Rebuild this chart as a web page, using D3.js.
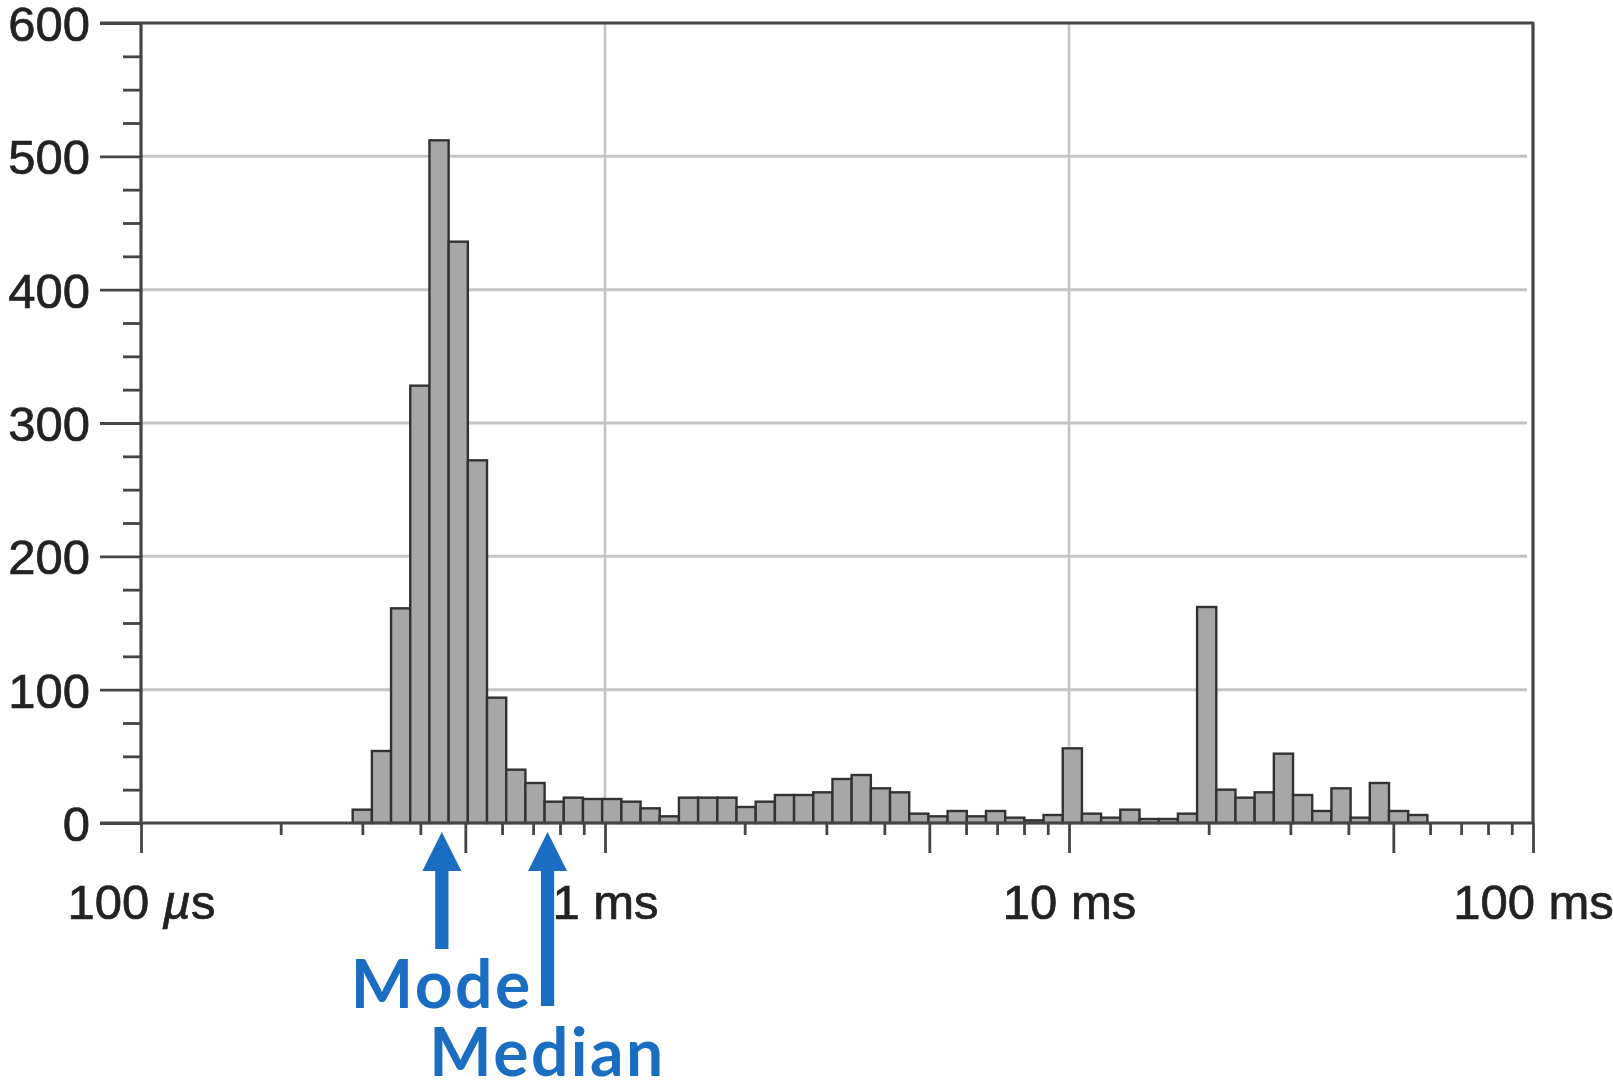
<!DOCTYPE html>
<html>
<head>
<meta charset="utf-8">
<script src="https://cdn.jsdelivr.net/npm/d3@7"></script>
<style>
  html, body { margin: 0; padding: 0; background: #fff; overflow: hidden; }
  svg { display: block; }
</style>
</head>
<body>
<svg id="chart" width="1613" height="1084"></svg>
<script>
// Response-time histogram with log-spaced bins (counts per bin)
const binCounts = [
  10, 54, 161, 328, 512, 436, 272, 94, 40, 30,
  16, 19, 18, 18, 16, 11, 5, 19, 19, 19,
  12, 16, 21, 21, 23, 33, 36, 26, 23, 7,
  5, 9, 5, 9, 4, 2, 6, 56, 7, 4,
  10, 3, 3, 7, 162, 25, 19, 23, 52, 21,
  9, 26, 4, 30, 9, 6
];
const firstBinEdgeMs = 0.2859;   // lower edge of the first bin
const binLogWidth = 0.04136;     // bin width in decades

const yTickValues = [0, 100, 200, 300, 400, 500, 600];
const xTickValues = [0.1, 1, 10, 100];
const xTickLabels = ["100 µs", "1 ms", "10 ms", "100 ms"];

const markerNames = ["Mode", "Median"];
const markerValuesMs = [0.445, 0.752];

// ---- layout ----
const plotLeft = 141, plotRight = 1533, plotTop = 23, plotBottom = 823;
const axisColor = "#444444", gridColor = "#c4c4c4", textColor = "#222222";
const accent = "#1b6dc1";

const svg = d3.select("#chart");
const x = d3.scaleLog().domain([0.1, 100]).range([plotLeft, plotRight]);
const y = d3.scaleLinear().domain([0, 600]).range([plotBottom, plotTop]);

const defs = svg.append("defs");
defs.append("filter").attr("id", "soft")
  .attr("x", "-5%").attr("y", "-5%").attr("width", "110%").attr("height", "110%")
  .append("feGaussianBlur").attr("stdDeviation", 0.7);

const plot = svg.append("g").attr("filter", "url(#soft)");

// horizontal grid
plot.append("g").selectAll("line")
  .data(yTickValues.filter(v => v > 0 && v < 600))
  .join("line")
  .attr("x1", plotLeft).attr("x2", plotRight - 6)
  .attr("y1", d => y(d)).attr("y2", d => y(d))
  .attr("stroke", gridColor).attr("stroke-width", 3);

// vertical grid at inner decades
plot.append("g").selectAll("line")
  .data(xTickValues.slice(1, -1))
  .join("line")
  .attr("x1", d => x(d)).attr("x2", d => x(d))
  .attr("y1", plotTop).attr("y2", plotBottom)
  .attr("stroke", gridColor).attr("stroke-width", 2.5);

// bars
const bins = binCounts.map((count, i) => {
  const lo = firstBinEdgeMs * Math.pow(10, i * binLogWidth);
  const hi = lo * Math.pow(10, binLogWidth);
  return { lo, hi, count };
});
plot.append("g").selectAll("rect")
  .data(bins)
  .join("rect")
  .attr("x", d => x(d.lo))
  .attr("width", d => x(d.hi) - x(d.lo))
  .attr("y", d => y(d.count))
  .attr("height", d => y(0) - y(d.count))
  .attr("fill", "#a7a7a7")
  .attr("stroke", "#333333")
  .attr("stroke-width", 2.4);

// y axis: major ticks with labels, minor ticks every 25
const yAxis = plot.append("g").attr("transform", `translate(${plotLeft},0)`)
  .call(d3.axisLeft(y).tickValues(yTickValues).tickSize(41).tickPadding(10)
    .tickFormat(d3.format("d")));
yAxis.selectAll(".tick text").attr("dy", "0.36em");
const yMinor = d3.range(0, 601, 25).filter(v => v % 100 !== 0);
const yAxisMinor = plot.append("g").attr("transform", `translate(${plotLeft},0)`)
  .call(d3.axisLeft(y).tickValues(yMinor).tickSize(18).tickFormat(""));

// x axis: decades and 5× ticks long, the rest short
const allMinor = [];
[0.1, 1, 10].forEach(dec => { for (let k = 2; k <= 9; k++) allMinor.push(dec * k); });
const isFive = v => Math.abs(v / Math.pow(10, Math.floor(Math.log10(v) + 1e-9)) - 5) < 1e-6;
const xFive = allMinor.filter(isFive);
const xShort = allMinor.filter(v => !isFive(v));

const xAxis = plot.append("g").attr("transform", `translate(0,${plotBottom})`)
  .call(d3.axisBottom(x).tickValues(xTickValues).tickSize(30).tickPadding(26)
    .tickFormat(() => ""));
const xAxisFive = plot.append("g").attr("transform", `translate(0,${plotBottom})`)
  .call(d3.axisBottom(x).tickValues(xFive).tickSize(30).tickFormat(""));
const xAxisShort = plot.append("g").attr("transform", `translate(0,${plotBottom})`)
  .call(d3.axisBottom(x).tickValues(xShort).tickSize(12).tickFormat(""));

// x tick labels (µ set in italic)
xAxis.selectAll(".tick text").each(function(d, i) {
  const t = d3.select(this);
  t.text(null).attr("dy", null).attr("y", 96);
  const label = xTickLabels[i];
  const muAt = label.indexOf("µ");
  if (muAt >= 0) {
    t.append("tspan").text(label.slice(0, muAt));
    t.append("tspan").attr("font-style", "italic").text("µ");
    t.append("tspan").text(label.slice(muAt + 1));
  } else {
    t.text(label);
  }
});

[yAxis, yAxisMinor, xAxis, xAxisFive, xAxisShort].forEach(g => {
  g.select(".domain").remove();
  g.selectAll(".tick line").attr("stroke", axisColor).attr("stroke-width", 2.8);
  g.selectAll("text")
    .attr("fill", textColor)
    .attr("stroke", textColor)
    .attr("stroke-width", 0.7)
    .attr("font-family", "'Liberation Sans', Arial, Helvetica, sans-serif")
    .attr("font-size", 49);
});

// frame: left, bottom, top, right
const frame = plot.append("g").attr("fill", "none").attr("stroke", axisColor)
  .attr("stroke-width", 3.2).attr("stroke-linejoin", "round");
frame.append("line").attr("x1", plotLeft).attr("x2", plotLeft).attr("y1", plotTop).attr("y2", plotBottom);
frame.append("line").attr("x1", plotLeft - 41).attr("x2", plotRight).attr("y1", y(0)).attr("y2", y(0));
frame.append("path").attr("d", `M${plotLeft - 41},${y(600)}H${plotRight}V${plotBottom}`);

// mode / median markers
const arrowTip = 832, headBase = 871, headHalf = 19.5, shaftHalf = 6.6;
const shaftEnds = [949, 1006];
const labelBaselines = [1008, 1076];
const notes = svg.append("g");
markerValuesMs.forEach((v, i) => {
  const cx = x(v);
  notes.append("path")
    .attr("d", `M${cx},${arrowTip}L${cx + headHalf},${headBase}H${cx + shaftHalf}V${shaftEnds[i]}` +
               `H${cx - shaftHalf}V${headBase}H${cx - headHalf}Z`)
    .attr("fill", accent);
  notes.append("text")
    .attr("x", cx).attr("y", labelBaselines[i])
    .attr("text-anchor", "middle")
    .attr("font-family", "Lato, 'Noto Sans', sans-serif")
    .attr("font-weight", 700)
    .attr("font-size", 66)
    .attr("letter-spacing", 2.5)
    .attr("fill", accent)
    .text(markerNames[i]);
});
</script>
</body>
</html>
